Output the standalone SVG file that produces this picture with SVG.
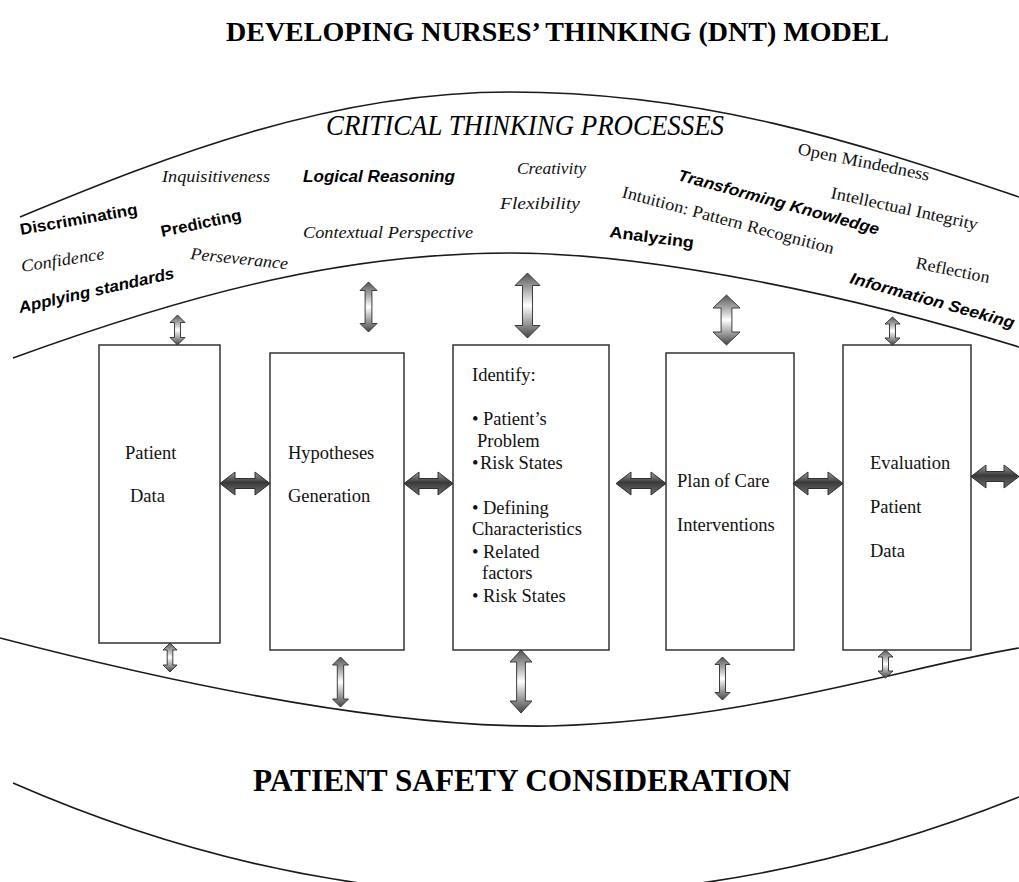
<svg xmlns="http://www.w3.org/2000/svg" width="1019" height="882" viewBox="0 0 1019 882">
  <defs>
    <linearGradient id="gradV" x1="0" y1="0" x2="0" y2="1">
      <stop offset="0" stop-color="#555555"/>
      <stop offset="0.3" stop-color="#b8b8b8"/>
      <stop offset="0.5" stop-color="#ffffff"/>
      <stop offset="0.7" stop-color="#b5b5b5"/>
      <stop offset="1" stop-color="#444444"/>
    </linearGradient>
    <linearGradient id="gradH" x1="0" y1="0" x2="0" y2="1">
      <stop offset="0" stop-color="#a0a0a0"/>
      <stop offset="0.45" stop-color="#3a3a3a"/>
      <stop offset="1" stop-color="#707070"/>
    </linearGradient>
    <style>
      .curve { fill: none; stroke: #1a1a1a; stroke-width: 1.6; }
      .box { fill: #ffffff; stroke: #333333; stroke-width: 1.5; }
      .varrow { fill: url(#gradV); stroke: #2a2a2a; stroke-width: 0.9; }
      .harrow { fill: url(#gradH); stroke: #222222; stroke-width: 0.9; }
      .title { font-family: "Liberation Serif", "Times New Roman", serif; font-weight: bold; fill: #000; }
      .head { font-family: "Liberation Serif", "Times New Roman", serif; font-style: italic; font-size: 29px; fill: #000; }
      .it { font-family: "Liberation Serif", "Times New Roman", serif; font-style: italic; font-size: 17px; fill: #111; }
      .rm { font-family: "Liberation Serif", "Times New Roman", serif; font-size: 17px; fill: #111; }
      .bd { font-family: "Liberation Sans", Arial, sans-serif; font-weight: bold; font-size: 16px; fill: #000; }
      .bi { font-family: "Liberation Sans", Arial, sans-serif; font-weight: bold; font-style: italic; font-size: 16px; fill: #000; }
      .bx { font-family: "Liberation Serif", "Times New Roman", serif; font-size: 18.5px; fill: #111; }
    </style>
  </defs>

  <rect width="1019" height="882" fill="#ffffff"/>

  <!-- headings -->
  <text class="title" x="226" y="41" font-size="28" textLength="663" lengthAdjust="spacingAndGlyphs">DEVELOPING NURSES’ THINKING (DNT) MODEL</text>
  <text class="head" x="326" y="135" textLength="398" lengthAdjust="spacingAndGlyphs">CRITICAL THINKING PROCESSES</text>
  <text class="title" x="253" y="791" font-size="31" textLength="538" lengthAdjust="spacingAndGlyphs">PATIENT SAFETY CONSIDERATION</text>

  <!-- band outlines -->
  <g id="bands">
    <path class="curve" d="M20,217 C170,155 330,92 510,92 C700,92 850,140 1019,197"/>
    <path class="curve" d="M13,358 C200,290 350,253 510,253 C650,253 850,295 1019,347"/>
    <path class="curve" d="M0,638 C200,690 400,728 550,726 C750,720 900,668 1019,648"/>
    <path class="curve" d="M13,783 Q510,1000 1019,797"/>
  </g>

  <!-- critical thinking attributes -->
  <g id="attributes">
    <text class="bd" transform="translate(21,235) rotate(-10)" textLength="119" lengthAdjust="spacingAndGlyphs">Discriminating</text>
    <text class="bd" transform="translate(162,237) rotate(-12)" textLength="82" lengthAdjust="spacingAndGlyphs">Predicting</text>
    <text class="bi" transform="translate(20,313) rotate(-12.7)" textLength="159" lengthAdjust="spacingAndGlyphs">Applying standards</text>
    <text class="it" transform="translate(22,272) rotate(-9)" textLength="84" lengthAdjust="spacingAndGlyphs">Confidence</text>
    <text class="it" transform="translate(190,259) rotate(6)" textLength="98" lengthAdjust="spacingAndGlyphs">Perseverance</text>
    <text class="it" x="162" y="182" textLength="108" lengthAdjust="spacingAndGlyphs">Inquisitiveness</text>
    <text class="bi" x="303" y="182" textLength="152" lengthAdjust="spacingAndGlyphs">Logical Reasoning</text>
    <text class="it" x="303" y="238" textLength="170" lengthAdjust="spacingAndGlyphs">Contextual Perspective</text>
    <text class="it" x="517" y="174" font-size="16" textLength="69" lengthAdjust="spacingAndGlyphs">Creativity</text>
    <text class="it" x="500" y="209" textLength="80" lengthAdjust="spacingAndGlyphs">Flexibility</text>
    <text class="rm" transform="translate(797,154) rotate(11.5)" textLength="134" lengthAdjust="spacingAndGlyphs">Open Mindedness</text>
    <text class="bi" transform="translate(677,180) rotate(15.3)" textLength="208" lengthAdjust="spacingAndGlyphs">Transforming Knowledge</text>
    <text class="rm" transform="translate(621,197) rotate(15.1)" textLength="219" lengthAdjust="spacingAndGlyphs">Intuition: Pattern Recognition</text>
    <text class="rm" transform="translate(830,198) rotate(12.3)" textLength="150" lengthAdjust="spacingAndGlyphs">Intellectual Integrity</text>
    <text class="bd" transform="translate(609,237) rotate(7.5)" textLength="85" lengthAdjust="spacingAndGlyphs">Analyzing</text>
    <text class="rm" transform="translate(915,268) rotate(11.6)" textLength="75" lengthAdjust="spacingAndGlyphs">Reflection</text>
    <text class="bi" transform="translate(849,283) rotate(15.5)" textLength="170" lengthAdjust="spacingAndGlyphs">Information Seeking</text>
  </g>

  <!-- process steps -->
  <g id="patient-data">
    <rect class="box" x="99" y="345" width="121" height="298"/>
    <text class="bx" x="125" y="459">Patient</text>
    <text class="bx" x="130" y="502">Data</text>
  </g>
  <g id="hypotheses">
    <rect class="box" x="270" y="353" width="134" height="297"/>
    <text class="bx" x="288" y="459">Hypotheses</text>
    <text class="bx" x="288" y="502">Generation</text>
  </g>
  <g id="identify">
    <rect class="box" x="453" y="345" width="156" height="305"/>
    <text class="bx" x="472" y="381">Identify:</text>
    <text class="bx" y="425"><tspan x="472">•</tspan><tspan x="483">Patient’s</tspan></text>
    <text class="bx" x="477" y="447">Problem</text>
    <text class="bx" y="469"><tspan x="472">•</tspan><tspan x="480">Risk States</tspan></text>
    <text class="bx" y="514"><tspan x="472">•</tspan><tspan x="483">Defining</tspan></text>
    <text class="bx" x="472" y="535">Characteristics</text>
    <text class="bx" y="558"><tspan x="472">•</tspan><tspan x="483">Related</tspan></text>
    <text class="bx" x="482" y="579">factors</text>
    <text class="bx" y="602"><tspan x="472">•</tspan><tspan x="483">Risk States</tspan></text>
  </g>
  <g id="plan-of-care">
    <rect class="box" x="666" y="353" width="128" height="297"/>
    <text class="bx" x="677" y="487">Plan of Care</text>
    <text class="bx" x="677" y="531">Interventions</text>
  </g>
  <g id="evaluation">
    <rect class="box" x="843" y="345" width="128" height="305"/>
    <text class="bx" x="870" y="469">Evaluation</text>
    <text class="bx" x="870" y="513">Patient</text>
    <text class="bx" x="870" y="557">Data</text>
  </g>

  <!-- two-way links -->
  <g id="connectors">
    <path class="harrow" d="M220,483.5 L235,472 L235,478.5 L255,478.5 L255,472 L270,483.5 L255,495 L255,488.5 L235,488.5 L235,495 Z"/>
    <path class="harrow" d="M404,483.5 L419,472 L419,478.5 L438,478.5 L438,472 L453,483.5 L438,495 L438,488.5 L419,488.5 L419,495 Z"/>
    <path class="harrow" d="M616,483.5 L631,472 L631,478.5 L651,478.5 L651,472 L666,483.5 L651,495 L651,488.5 L631,488.5 L631,495 Z"/>
    <path class="harrow" d="M793,483.5 L808,472 L808,478.5 L828,478.5 L828,472 L843,483.5 L828,495 L828,488.5 L808,488.5 L808,495 Z"/>
    <path class="harrow" d="M971,476.5 L986,465 L986,471.5 L1004,471.5 L1004,465 L1019,476.5 L1004,488 L1004,481.5 L986,481.5 L986,488 Z"/>

    <path class="varrow" d="M177.5,315 L185,322.5 L180.5,322.5 L180.5,337.5 L185,337.5 L177.5,345 L170,337.5 L174.5,337.5 L174.5,322.5 L170,322.5 Z"/>
    <path class="varrow" d="M368.5,282 L377,290.5 L371.9,290.5 L371.9,323.5 L377,323.5 L368.5,332 L360,323.5 L365.1,323.5 L365.1,290.5 L360,290.5 Z"/>
    <path class="varrow" d="M527.5,273 L540,285.5 L532.5,285.5 L532.5,325.5 L540,325.5 L527.5,338 L515,325.5 L522.5,325.5 L522.5,285.5 L515,285.5 Z"/>
    <path class="varrow" d="M726.5,295 L740,308 L731.9,308 L731.9,332 L740,332 L726.5,345 L713,332 L721.1,332 L721.1,308 L713,308 Z"/>
    <path class="varrow" d="M892.5,317 L900,324 L895.5,324 L895.5,338 L900,338 L892.5,345 L885,338 L889.5,338 L889.5,324 L885,324 Z"/>

    <path class="varrow" d="M170,643 L177,650 L172.8,650 L172.8,665 L177,665 L170,672 L163,665 L167.2,665 L167.2,650 L163,650 Z"/>
    <path class="varrow" d="M340.5,657 L348.5,665 L343.7,665 L343.7,699 L348.5,699 L340.5,707 L332.5,699 L337.3,699 L337.3,665 L332.5,665 Z"/>
    <path class="varrow" d="M521,650 L532,662 L525.4,662 L525.4,701 L532,701 L521,713 L510,701 L516.6,701 L516.6,662 L510,662 Z"/>
    <path class="varrow" d="M722.5,657 L730,664.5 L725.5,664.5 L725.5,692.5 L730,692.5 L722.5,700 L715,692.5 L719.5,692.5 L719.5,664.5 L715,664.5 Z"/>
    <path class="varrow" d="M885.5,650 L893,657 L888.5,657 L888.5,671 L893,671 L885.5,678 L878,671 L882.5,671 L882.5,657 L878,657 Z"/>
  </g>
</svg>
